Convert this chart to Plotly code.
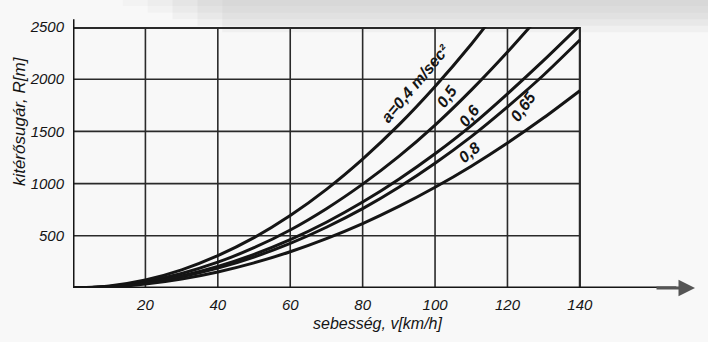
import plotly.graph_objects as go

# speed v [km/h]
speed = [0, 10, 20, 30, 40, 50, 60, 70, 80, 90, 100, 110, 120, 130, 140]

# radius R [m] for each acceleration a [m/sec^2]
r_a04 = [0, 20, 77, 174, 310, 482, 694, 945, 1235, 1562, 1930, 2335, 2780, None, None]
r_a05 = [0, 15, 62, 139, 247, 386, 556, 760, 995, 1260, 1560, 1895, 2260, 2650, None]
r_a06 = [0, 13, 51, 116, 206, 322, 463, 630, 823, 1042, 1286, 1556, 1860, 2180, 2515]
r_a065 = [0, 12, 47, 107, 190, 297, 427, 582, 760, 965, 1195, 1450, 1735, 2040, 2375]
r_a08 = [0, 10, 39, 87, 154, 241, 347, 473, 617, 781, 965, 1167, 1389, 1630, 1890]

series = [r_a04, r_a05, r_a06, r_a065, r_a08]

x_ticks = [20, 40, 60, 80, 100, 120, 140]
y_ticks = [500, 1000, 1500, 2000, 2500]

# curve labels: text, v, R, angle
curve_labels = [
    ("a=0,4 m/sec²", 94.5, 1960, -50),
    ("0,5", 103.3, 1830, -55),
    ("0,6", 109.5, 1650, -52),
    ("0,65", 124.3, 1740, -55),
    ("0,8", 109.4, 1300, -40),
]

INK = "#151515"
FONT = "Liberation Sans"

fig = go.Figure()
for ys in series:
    fig.add_trace(go.Scatter(
        x=speed, y=ys, mode="lines",
        line=dict(color=INK, width=3, shape="spline", smoothing=0.6),
        connectgaps=False, showlegend=False, hoverinfo="skip",
    ))

shapes = []
# scan shading at top (soft fade)
for i, a in enumerate([0.05, 0.05, 0.05, 0.04, 0.03]):
    shapes.append(dict(type="rect", xref="paper", yref="paper",
                       x0=0.08 + 0.04 * (4 - i), x1=1.03,
                       y0=1.0 + 0.025 * i - 0.02, y1=1.12,
                       fillcolor="rgba(100,100,100,%s)" % a,
                       line=dict(width=0), layer="below"))
# horizontal grid lines stop at v = 140
for yv in y_ticks:
    shapes.append(dict(type="line", xref="x", yref="y", x0=0, x1=x_ticks[-1],
                       y0=yv, y1=yv, line=dict(color="#2a2a2a",
                       width=4 if yv == y_ticks[-1] else 1.6), layer="below"))
# vertical grid lines
for xv in x_ticks:
    shapes.append(dict(type="line", xref="x", yref="y", x0=xv, x1=xv,
                       y0=0, y1=y_ticks[-1], line=dict(color="#2a2a2a",
                       width=2.2 if xv == x_ticks[-1] else 1.6), layer="below"))
# axes
shapes.append(dict(type="line", xref="paper", yref="y", x0=0, x1=0.97, y0=0, y1=0,
                   line=dict(color=INK, width=3)))
shapes.append(dict(type="line", xref="x", yref="paper", x0=0, x1=0, y0=0, y1=1.03,
                   line=dict(color=INK, width=3)))

annotations = []
for txt, xv, yv, ang in curve_labels:
    annotations.append(dict(x=xv, y=yv, xref="x", yref="y", text=txt,
                            showarrow=False, textangle=ang,
                            font=dict(family=FONT, size=16, color=INK,
                                      style="italic", weight="bold")))
# arrow on x axis
annotations.append(dict(x=1.0, y=0, xref="paper", yref="y", ax=-40, ay=0,
                        text="", showarrow=True, arrowhead=2, arrowsize=1.1,
                        arrowwidth=3, arrowcolor="#555"))
annotations.append(dict(x=84.2, y=-0.135, xref="x", yref="paper",
                        text="sebesség, v[km/h]", showarrow=False,
                        yanchor="middle",
                        font=dict(family=FONT, size=16, color=INK, style="italic")))
annotations.append(dict(x=-0.085, y=0.64, xref="paper", yref="paper",
                        text="kitérősugár, R[m]", showarrow=False, textangle=-90,
                        xanchor="center", yanchor="middle",
                        font=dict(family=FONT, size=17, color=INK, style="italic")))

fig.update_layout(
    width=708, height=342,
    margin=dict(l=73, r=13, t=27, b=54),
    paper_bgcolor="#f8f8f8", plot_bgcolor="rgba(0,0,0,0)",
    xaxis=dict(range=[0, 171.8], tickvals=x_ticks, ticktext=[str(v) for v in x_ticks],
               showgrid=False, zeroline=False, showline=False, ticks="",
               ticklabelstandoff=6,
               tickfont=dict(family=FONT, size=15, color=INK, style="italic")),
    yaxis=dict(range=[0, 2500], tickvals=y_ticks, ticktext=[str(v) for v in y_ticks],
               showgrid=False, zeroline=False, showline=False, ticks="",
               ticklabelstandoff=8,
               tickfont=dict(family=FONT, size=15, color=INK, style="italic")),
    shapes=shapes, annotations=annotations,
)

fig.write_html("out.html")
